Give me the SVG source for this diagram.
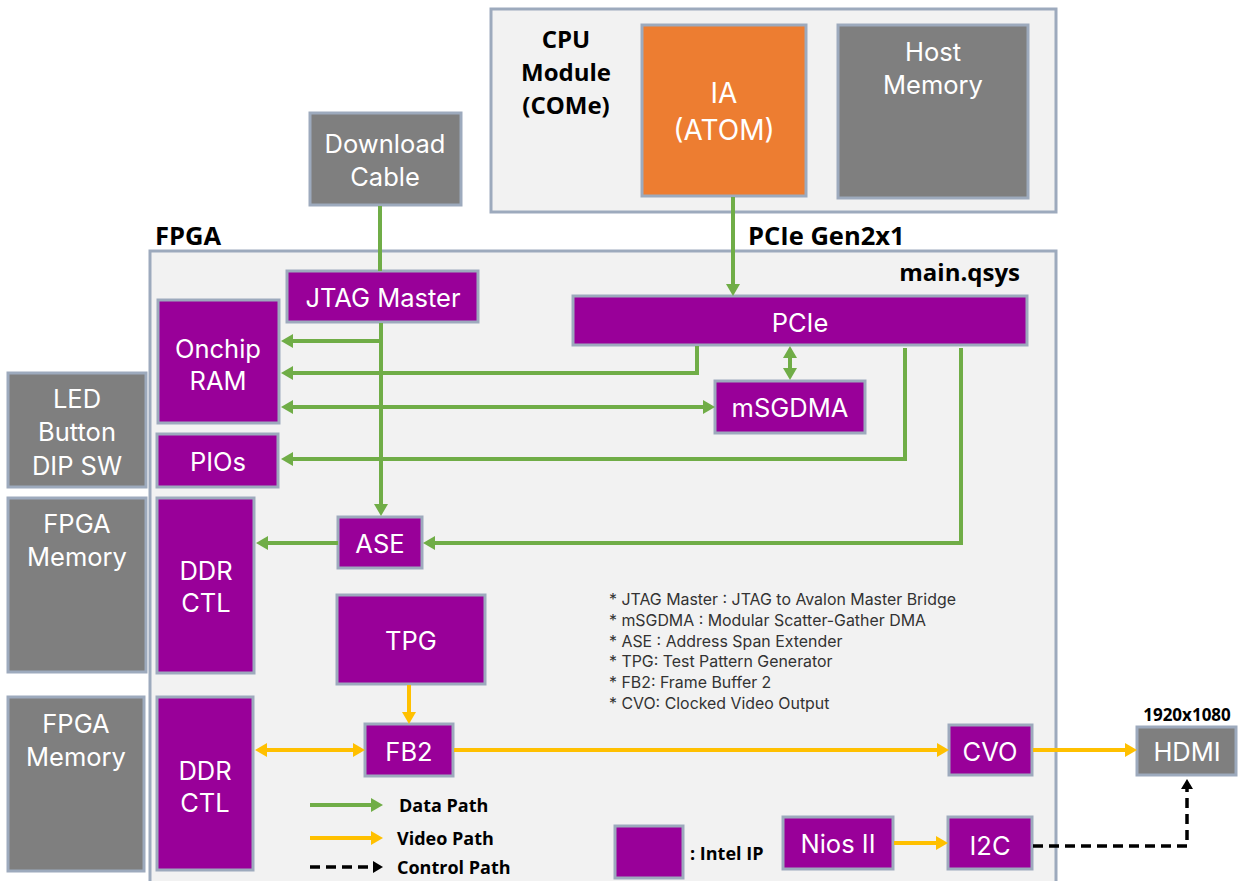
<svg xmlns="http://www.w3.org/2000/svg" width="1240" height="881" viewBox="0 0 1240 881">
<defs>
<style>
.box{stroke:#9DAABD;stroke-width:3}
.ip{fill:#990099}
.ext{fill:#7F7F7F}
.cont{fill:#F2F2F2;stroke:#9DAABD;stroke-width:3}
.t{font-family:Inter,"Open Sans",sans-serif;font-size:25.5px;fill:#FFFFFF;text-anchor:middle;dominant-baseline:central}
.b{font-family:"Open Sans","Noto Sans",sans-serif;font-weight:bold;font-size:25.5px;fill:#000000}
.note{font-family:Inter,"Open Sans",sans-serif;font-size:15.9px;fill:#333333}
.lg{font-family:"Open Sans","Noto Sans",sans-serif;font-weight:bold;font-size:18px;fill:#000000;dominant-baseline:central}
.g{fill:none;stroke:#70AD47;stroke-width:4}
.y{fill:none;stroke:#FFC000;stroke-width:4}
.k{fill:none;stroke:#000000;stroke-width:3.5;stroke-dasharray:10 6}
</style>
<marker id="ag" viewBox="0 0 12 14" refX="4" refY="7" markerWidth="12" markerHeight="14" markerUnits="userSpaceOnUse" orient="auto-start-reverse"><path d="M0,0 L12,7 L0,14 z" fill="#70AD47"/></marker>
<marker id="ay" viewBox="0 0 12 14" refX="4" refY="7" markerWidth="12" markerHeight="14" markerUnits="userSpaceOnUse" orient="auto-start-reverse"><path d="M0,0 L12,7 L0,14 z" fill="#FFC000"/></marker>
<marker id="ak" viewBox="0 0 10 12" refX="2" refY="6" markerWidth="10" markerHeight="12" markerUnits="userSpaceOnUse" orient="auto-start-reverse"><path d="M0,0 L10,6 L0,12 z" fill="#000000"/></marker>
</defs>
<rect width="1240" height="881" fill="#FFFFFF"/>

<g id="cpu-module">
<rect class="cont" x="491" y="9" width="565" height="203"/>
<text class="b" text-anchor="middle" style="font-size:24px"><tspan x="566" y="48">CPU</tspan><tspan x="566" y="81">Module</tspan><tspan x="566" y="114">(COMe)</tspan></text>
</g>
<g id="fpga">
<rect class="cont" x="150" y="251" width="906" height="640"/>
<text class="b" x="155" y="245">FPGA</text>
<text class="b" x="1020" y="281" text-anchor="end" style="font-size:24px">main.qsys</text>
</g>
<text class="b" x="748" y="245">PCIe Gen2x1</text>

<g id="ia"><rect class="box" x="642" y="25" width="164" height="171" fill="#ED7D31"/><text class="t" x="724" y="93" style="font-size:28px">IA</text><text class="t" x="724" y="130" style="font-size:28px">(ATOM)</text></g>
<g id="host-memory"><rect class="box ext" x="838" y="25" width="190" height="173"/><text class="t" x="933" y="51">Host</text><text class="t" x="933" y="84">Memory</text></g>
<g id="download-cable"><rect class="box ext" x="310" y="113" width="151" height="92"/><text class="t" x="385" y="143">Download</text><text class="t" x="385" y="176">Cable</text></g>

<g id="jtag-master"><rect class="box ip" x="287" y="271" width="191" height="51"/><text class="t" x="383" y="297">JTAG Master</text></g>
<g id="pcie"><rect class="box ip" x="573" y="296" width="454" height="49"/><text class="t" x="800" y="322">PCIe</text></g>
<g id="onchip-ram"><rect class="box ip" x="158" y="300" width="121" height="123"/><text class="t" x="218" y="348">Onchip</text><text class="t" x="218" y="380">RAM</text></g>
<g id="pios"><rect class="box ip" x="157" y="434" width="121" height="53"/><text class="t" x="218" y="461">PIOs</text></g>
<g id="msgdma"><rect class="box ip" x="715" y="381" width="150" height="52"/><text class="t" x="790" y="407">mSGDMA</text></g>
<g id="ase"><rect class="box ip" x="338" y="517" width="84" height="51"/><text class="t" x="380" y="543">ASE</text></g>
<g id="ddr-ctl-1"><rect class="box ip" x="157" y="498" width="97" height="175"/><text class="t" x="206" y="570">DDR</text><text class="t" x="206" y="602">CTL</text></g>
<g id="tpg"><rect class="box ip" x="337" y="595" width="148" height="89"/><text class="t" x="411" y="640">TPG</text></g>
<g id="fb2"><rect class="box ip" x="365" y="724" width="88" height="52"/><text class="t" x="409" y="751">FB2</text></g>
<g id="cvo"><rect class="box ip" x="949" y="725" width="83" height="50"/><text class="t" x="990" y="751">CVO</text></g>
<g id="ddr-ctl-2"><rect class="box ip" x="157" y="697" width="96" height="173"/><text class="t" x="205" y="770">DDR</text><text class="t" x="205" y="802">CTL</text></g>
<g id="nios-ii"><rect class="box ip" x="783" y="817" width="110" height="52"/><text class="t" x="838" y="843">Nios II</text></g>
<g id="i2c"><rect class="box ip" x="948" y="817" width="84" height="52"/><text class="t" x="990" y="845">I2C</text></g>

<g id="led-button-dipsw"><rect class="box ext" x="8" y="373" width="138" height="114"/><text class="t" x="77" y="398">LED</text><text class="t" x="77" y="431">Button</text><text class="t" x="77" y="465">DIP SW</text></g>
<g id="fpga-memory-1"><rect class="box ext" x="8" y="498" width="138" height="174"/><text class="t" x="77" y="523">FPGA</text><text class="t" x="77" y="556">Memory</text></g>
<g id="fpga-memory-2"><rect class="box ext" x="8" y="697" width="136" height="174"/><text class="t" x="76" y="723">FPGA</text><text class="t" x="76" y="756">Memory</text></g>
<g id="hdmi"><rect class="box ext" x="1137" y="727" width="99" height="48"/><text class="t" x="1187" y="751">HDMI</text><text class="b" x="1187" y="721" text-anchor="middle" style="font-size:17px">1920x1080</text></g>

<g id="notes">
<text class="note" x="609" y="605">* JTAG Master : JTAG to Avalon Master Bridge</text>
<text class="note" x="609" y="626">* mSGDMA  : Modular Scatter-Gather DMA</text>
<text class="note" x="609" y="647">* ASE : Address Span Extender</text>
<text class="note" x="609" y="667">* TPG: Test Pattern Generator</text>
<text class="note" x="609" y="688">* FB2: Frame Buffer 2</text>
<text class="note" x="609" y="709">* CVO: Clocked Video Output</text>
</g>

<g id="legend">
<path class="g" d="M310,805 H375" marker-end="url(#ag)"/>
<text class="lg" x="399" y="805">Data Path</text>
<path class="y" d="M310,838 H375" marker-end="url(#ay)"/>
<text class="lg" x="397" y="838">Video Path</text>
<path class="k" d="M310,867 H375" marker-end="url(#ak)"/>
<text class="lg" x="397" y="867">Control Path</text>
<rect class="box ip" x="615" y="826" width="68" height="52"/>
<text class="lg" x="690" y="853">: Intel IP</text>
</g>

<g id="connectors">
<path class="g" d="M380,206 V271"/>
<path class="g" d="M733,197 V288" marker-end="url(#ag)"/>
<path class="g" d="M381,323 V508" marker-end="url(#ag)"/>
<path class="g" d="M381,341 H289" marker-end="url(#ag)"/>
<path class="g" d="M697,346 V373 H289" marker-end="url(#ag)"/>
<path class="g" d="M289,407 H707" marker-start="url(#ag)" marker-end="url(#ag)"/>
<path class="g" d="M790,354 V372" marker-start="url(#ag)" marker-end="url(#ag)"/>
<path class="g" d="M905,348 V459 H289" marker-end="url(#ag)"/>
<path class="g" d="M961,348 V543 H431" marker-end="url(#ag)"/>
<path class="g" d="M338,543 H264" marker-end="url(#ag)"/>
<path class="y" d="M409,685 V716" marker-end="url(#ay)"/>
<path class="y" d="M263,750 H357" marker-start="url(#ay)" marker-end="url(#ay)"/>
<path class="y" d="M454,750 H941" marker-end="url(#ay)"/>
<path class="y" d="M1033,750 H1129" marker-end="url(#ay)"/>
<path class="y" d="M894,843 H940" marker-end="url(#ay)"/>
<path class="k" d="M1033,846 H1187 V787" marker-end="url(#ak)"/>
</g>
</svg>
